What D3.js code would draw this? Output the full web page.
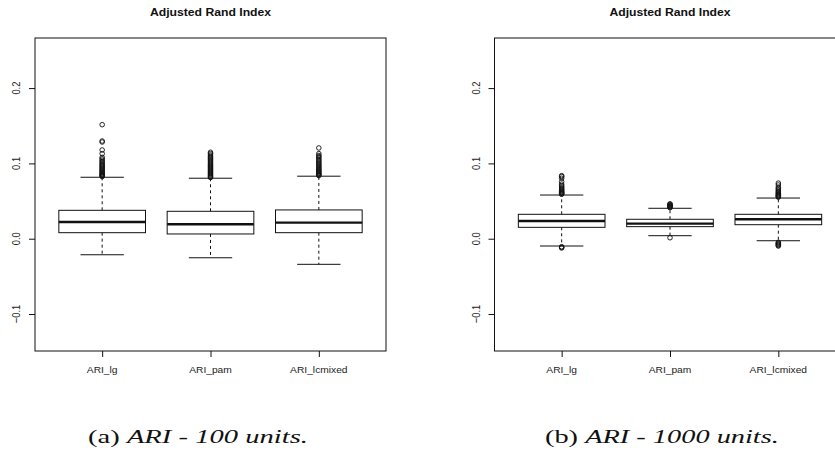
<!DOCTYPE html>
<html>
<head>
<meta charset="utf-8">
<script src="https://cdn.jsdelivr.net/npm/d3@7"></script>
<style>
  html, body { margin: 0; padding: 0; background: #fff; }
  svg { display: block; }
</style>
</head>
<body>
<script>
// Box plot categories and axis ticks
const categories = ["ARI_lg", "ARI_pam", "ARI_lcmixed"];
const yTicks = [-0.1, 0.0, 0.1, 0.2];
const yTickLabels = ["\u22120.1", "0.0", "0.1", "0.2"];
const plotTitle = "Adjusted Rand Index";

// (a) 100 units: five-number summaries per method
const lowWhisker100 = [-0.0213, -0.0253, -0.0340];
const q1_100 = [0.0080, 0.0063, 0.0080];
const median100 = [0.0222, 0.0191, 0.0213];
const q3_100 = [0.0377, 0.0364, 0.0382];
const highWhisker100 = [0.0816, 0.0803, 0.0830];
const outliers100_lg = [0.0825, 0.0834, 0.0843, 0.0852, 0.0862, 0.0873, 0.0885, 0.0897, 0.0910, 0.0922,
  0.0935, 0.0950, 0.0963, 0.0978, 0.0992, 0.1008, 0.1025, 0.1042, 0.1060, 0.1080, 0.1129, 0.1178,
  0.1284, 0.1297, 0.1514];
const outliers100_pam = [0.0812, 0.0822, 0.0833, 0.0845, 0.0856, 0.0868, 0.0880, 0.0893, 0.0905, 0.0918,
  0.0932, 0.0946, 0.0960, 0.0973, 0.0988, 0.1002, 0.1018, 0.1033, 0.1048, 0.1063, 0.1078, 0.1095,
  0.1112, 0.1130, 0.1148];
const outliers100_lcmixed = [0.0838, 0.0847, 0.0857, 0.0867, 0.0878, 0.0890, 0.0902, 0.0915, 0.0928,
  0.0942, 0.0957, 0.0972, 0.0988, 0.1003, 0.1020, 0.1037, 0.1055, 0.1072, 0.1090, 0.1105, 0.1130, 0.1205];

// (b) 1000 units: five-number summaries per method
const lowWhisker1000 = [-0.0097, 0.0040, -0.0027];
const q1_1000 = [0.0151, 0.0160, 0.0186];
const median1000 = [0.0235, 0.0200, 0.0258];
const q3_1000 = [0.0324, 0.0258, 0.0324];
const highWhisker1000 = [0.0580, 0.0404, 0.0540];
const outliers1000_lg = [-0.0123, -0.0115, -0.0106, 0.0590, 0.0598, 0.0606, 0.0615, 0.0625, 0.0636,
  0.0648, 0.0660, 0.0673, 0.0688, 0.0704, 0.0725, 0.0757, 0.0802, 0.0825, 0.0837];
const outliers1000_pam = [0.0013, 0.0412, 0.0419, 0.0426, 0.0433, 0.0440, 0.0447, 0.0455, 0.0463];
const outliers1000_lcmixed = [-0.0097, -0.0088, -0.0078, -0.0068, -0.0058, -0.0048, 0.0552, 0.0560,
  0.0568, 0.0577, 0.0587, 0.0597, 0.0608, 0.0620, 0.0633, 0.0647, 0.0665, 0.0683, 0.0713, 0.0738];

// Sub-figure captions
const captionTags = ["(a) ", "(b) "];
const captionTexts = ["ARI - 100 units.", "ARI - 1000 units."];

const W = 835, H = 460;
const svg = d3.select("body").append("svg")
  .attr("width", W).attr("height", H)
  .attr("viewBox", `0 0 ${W} ${H}`);

const ink = "#111";
const sans = "'Liberation Sans', Arial, Helvetica, sans-serif";
const serif = "'Liberation Serif', 'Times New Roman', serif";
const sx = 1.22; // text is a little wider than it is tall in this figure

const y = d3.scaleLinear().domain([-0.1491, 0.2665]).range([351, 38]);

function panel(xRange, stats, outliers, caption, tag) {
  const g = svg.append("g");
  const x = d3.scaleLinear().domain([0.38, 3.62]).range(xRange);
  const unit = x(1) - x(0);
  const [x0, x1] = xRange;
  const [yb, yt] = y.range();

  // Title centred over the plot region
  const cx = (x0 + x1) / 2;
  g.append("text")
    .attr("transform", `translate(${cx},15.5) scale(${sx},1)`)
    .attr("text-anchor", "middle")
    .attr("font-family", sans).attr("font-weight", "bold").attr("font-size", 10)
    .attr("fill", ink)
    .text(plotTitle);

  // Left axis
  const yAxis = g.append("g").attr("transform", `translate(${x0},0)`)
    .call(d3.axisLeft(y).tickValues(yTicks).tickSize(6).tickFormat(""));
  yAxis.select(".domain").remove();
  yAxis.selectAll(".tick line").attr("stroke", ink).attr("stroke-width", 1);
  g.selectAll(".ylab").data(yTicks).join("text")
    .attr("class", "ylab")
    .attr("transform", d => `translate(${x0 - 15},${y(d)}) scale(${sx},1) rotate(-90)`)
    .attr("text-anchor", "middle")
    .attr("font-family", sans).attr("font-size", 9.4)
    .attr("fill", "#222")
    .text((d, i) => yTickLabels[i]);

  // Bottom axis
  const xAxis = g.append("g").attr("transform", `translate(0,${yb})`)
    .call(d3.axisBottom(x).tickValues([1, 2, 3]).tickSize(6).tickFormat(""));
  xAxis.select(".domain").remove();
  xAxis.selectAll(".tick line").attr("stroke", ink).attr("stroke-width", 1);
  g.selectAll(".xlab").data(categories).join("text")
    .attr("class", "xlab")
    .attr("transform", (d, i) => `translate(${x(i + 1)},373) scale(${sx},1)`)
    .attr("text-anchor", "middle")
    .attr("font-family", sans).attr("font-size", 8.4)
    .attr("fill", "#222")
    .text(d => d);

  // Frame
  g.append("rect")
    .attr("x", x0).attr("y", yt).attr("width", x1 - x0).attr("height", yb - yt)
    .attr("fill", "none").attr("stroke", ink).attr("stroke-width", 1);

  // Boxes
  categories.forEach((c, i) => {
    const xc = x(i + 1);
    const half = 0.4 * unit, staple = 0.2 * unit;
    const b = g.append("g");
    // whiskers
    b.append("line").attr("x1", xc).attr("x2", xc)
      .attr("y1", y(stats.q3[i])).attr("y2", y(stats.hi[i]))
      .attr("stroke", ink).attr("stroke-width", 1).attr("stroke-dasharray", "3,3");
    b.append("line").attr("x1", xc).attr("x2", xc)
      .attr("y1", y(stats.q1[i])).attr("y2", y(stats.lo[i]))
      .attr("stroke", ink).attr("stroke-width", 1).attr("stroke-dasharray", "3,3");
    // staples
    [stats.hi[i], stats.lo[i]].forEach(v => {
      b.append("line").attr("x1", xc - staple).attr("x2", xc + staple)
        .attr("y1", y(v)).attr("y2", y(v))
        .attr("stroke", ink).attr("stroke-width", 1);
    });
    // box
    b.append("rect")
      .attr("x", xc - half).attr("width", 2 * half)
      .attr("y", y(stats.q3[i])).attr("height", y(stats.q1[i]) - y(stats.q3[i]))
      .attr("fill", "#fff").attr("stroke", ink).attr("stroke-width", 1);
    // median
    b.append("line").attr("x1", xc - half).attr("x2", xc + half)
      .attr("y1", y(stats.med[i])).attr("y2", y(stats.med[i]))
      .attr("stroke", ink).attr("stroke-width", 2.4);
    // outliers
    b.selectAll("circle").data(outliers[i]).join("circle")
      .attr("cx", xc).attr("cy", d => y(d)).attr("r", 2.3)
      .attr("fill", "none").attr("stroke", ink).attr("stroke-width", 0.9);
  });

  // Caption below the panel
  const cap = svg.append("text")
    .attr("font-family", serif).attr("font-size", 19.5).attr("fill", "#111");
  cap.append("tspan").text(tag);
  cap.append("tspan").attr("font-style", "italic").text(caption);
  return cap;
}

const capA = panel([35, 386],
  { lo: lowWhisker100, q1: q1_100, med: median100, q3: q3_100, hi: highWhisker100 },
  [outliers100_lg, outliers100_pam, outliers100_lcmixed], captionTexts[0], captionTags[0]);
const capB = panel([494.5, 845.5],
  { lo: lowWhisker1000, q1: q1_1000, med: median1000, q3: q3_1000, hi: highWhisker1000 },
  [outliers1000_lg, outliers1000_pam, outliers1000_lcmixed], captionTexts[1], captionTags[1]);

// Caption placement: starting x and stretched width
[[capA, 88, 220], [capB, 545, 234]].forEach(([cap, cx, w]) => {
  const natural = cap.node().getComputedTextLength();
  cap.attr("transform", `translate(${cx},443) scale(${w / natural},1)`);
});
</script>
</body>
</html>
